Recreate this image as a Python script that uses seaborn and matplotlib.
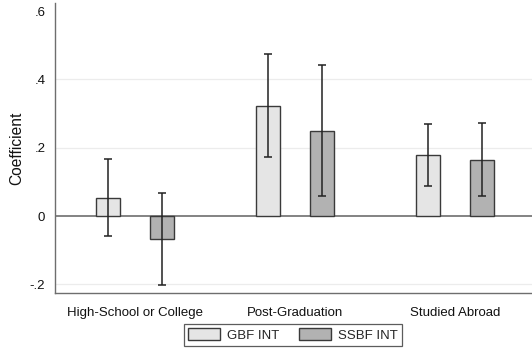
import matplotlib
matplotlib.use("Agg")
import matplotlib.pyplot as plt
import seaborn as sns
import pandas as pd
import numpy as np
from matplotlib.patches import Patch

categories = ["High-School or College", "Post-Graduation", "Studied Abroad"]
series = ["GBF INT", "SSBF INT"]
gbf_coef = [0.054, 0.323, 0.180]
gbf_lo = [-0.058, 0.173, 0.088]
gbf_hi = [0.168, 0.476, 0.270]
ssbf_coef = [-0.067, 0.250, 0.165]
ssbf_lo = [-0.203, 0.059, 0.058]
ssbf_hi = [0.068, 0.443, 0.273]
yticks = [-0.2, 0, 0.2, 0.4, 0.6]
yticklabels = ["-.2", "0", ".2", ".4", ".6"]

df = pd.DataFrame({
    "cat": categories * 2,
    "series": [series[0]] * 3 + [series[1]] * 3,
    "coef": gbf_coef + ssbf_coef,
    "lo": gbf_lo + ssbf_lo,
    "hi": gbf_hi + ssbf_hi,
})

sns.set_style("white")
plt.rcParams["font.family"] = ["Liberation Sans", "DejaVu Sans"]

fig = plt.figure(figsize=(5.32, 3.5), dpi=100)
W, H = 532, 350
ax = fig.add_axes([55 / W, 57 / H, 477 / W, 290 / H])

colors = {"GBF INT": "#e5e5e5", "SSBF INT": "#b2b2b2"}
width = 0.675
sns.barplot(data=df, x="cat", y="coef", hue="series", order=categories,
            hue_order=series, palette=colors, width=width, gap=0.573,
            errorbar=None, edgecolor="#3a3a3a", linewidth=1.0, ax=ax,
            legend=False, zorder=3)

offsets = {series[0]: -width / 4, series[1]: width / 4}
for _, r in df.iterrows():
    xpos = categories.index(r["cat"]) + offsets[r["series"]]
    ax.errorbar([xpos], [r["coef"]],
                yerr=[[r["coef"] - r["lo"]], [r["hi"] - r["coef"]]],
                fmt="none", ecolor="#222222", elinewidth=1.1, capsize=2.6,
                capthick=1.1, zorder=4)

ax.set_xlim(-0.5, -0.5 + 477 / 160)
ax.set_ylim(-0.2255, 0.624)
ax.set_yticks(yticks)
ax.set_yticklabels(yticklabels)
ax.axhline(0, color="#6e6e6e", lw=1.2, zorder=2)
for yv in [-0.2, 0.2, 0.4]:
    ax.axhline(yv, color="#ececec", lw=0.9, zorder=1)

for s in ["top", "right"]:
    ax.spines[s].set_visible(False)
for s in ["left", "bottom"]:
    ax.spines[s].set_color("#6e6e6e")
    ax.spines[s].set_linewidth(1.0)
ax.tick_params(axis="both", direction="out", length=4, width=1.0,
               color="#6e6e6e", labelsize=9.5, labelcolor="#111111", pad=3)
ax.tick_params(axis="x", pad=6)
ax.set_xlabel("")
ax.set_ylabel("Coefficient", fontsize=11.2, color="#111111")
ax.yaxis.set_label_coords(-0.064, 0.5)

handles = [Patch(facecolor=colors[s], edgecolor="#3a3a3a", lw=1.0, label=s)
           for s in series]
leg = fig.legend(handles=handles, loc="center", bbox_to_anchor=(293 / W, 15 / H),
                 ncol=2, frameon=True, fancybox=False, fontsize=9.5,
                 handlelength=2.4, handleheight=0.95, columnspacing=1.5,
                 borderpad=0.35, handletextpad=0.55)
leg.get_frame().set_edgecolor("#333333")
leg.get_frame().set_linewidth(0.9)

fig.savefig("out.png", dpi=100)
